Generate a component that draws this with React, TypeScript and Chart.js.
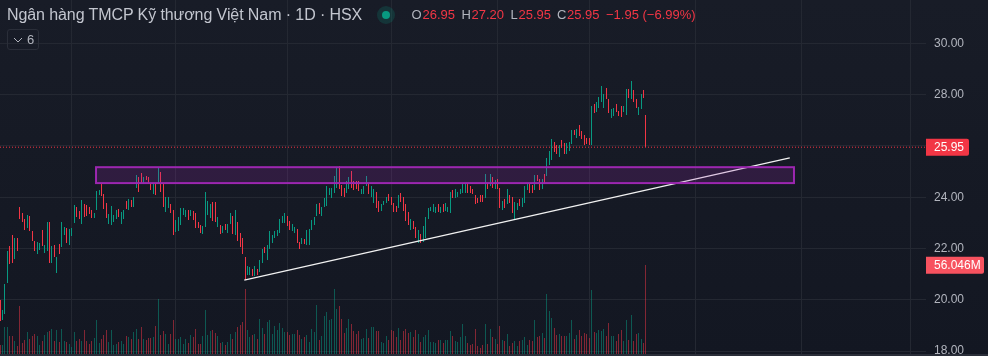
import React, { useEffect, useRef } from "react";
import { Chart, registerables } from "chart.js";

Chart.register(...registerables);

const highs = [
  19.99,19.62,20.62,21.90,22.09,22.51,22.41,22.41,23.62,23.37,23.15,23.31,23.27,22.67,22.28,22.24,22.22,22.72,22.12,23.03,
  23.03,22.09,22.14,21.67,22.18,23.03,22.83,22.79,22.76,22.80,23.70,23.62,23.46,23.89,23.74,23.70,23.62,23.50,23.39,24.24,
  24.28,24.57,24.12,23.77,23.34,23.66,23.31,23.50,23.54,23.42,23.50,23.85,23.93,23.89,24.01,24.87,24.79,24.94,24.79,24.83,
  24.79,24.55,24.55,24.55,25.18,24.98,24.54,24.01,24.01,23.73,23.50,23.11,23.23,23.58,23.58,23.50,23.50,23.50,23.46,23.38,
  23.03,22.92,22.88,24.20,23.85,23.73,23.81,23.81,23.23,22.92,22.88,22.95,22.95,23.38,23.27,23.50,23.03,22.60,22.41,21.67,
  21.32,21.28,21.20,21.32,21.20,21.55,21.98,22.06,22.14,22.68,22.53,22.68,22.72,23.15,23.27,23.38,23.27,23.07,22.95,22.84,
  22.76,22.25,22.41,22.37,22.72,22.76,23.11,23.23,23.73,23.77,23.62,23.97,24.44,24.36,24.36,24.83,25.18,25.22,24.48,24.36,
  24.63,24.79,25.02,24.63,24.63,24.63,24.32,24.44,24.83,24.54,24.44,24.32,24.20,23.85,23.73,23.85,24.01,24.12,24.01,23.77,
  23.66,24.08,24.16,24.01,23.73,23.42,23.15,23.07,22.84,22.72,22.56,22.88,23.23,23.58,23.62,23.73,23.62,23.73,23.62,23.73,
  23.77,23.62,24.20,24.28,24.32,24.20,24.32,24.55,24.55,24.55,24.44,24.32,24.08,23.97,24.08,24.08,24.90,24.55,24.90,24.79,
  24.67,24.70,24.35,23.85,23.92,24.31,24.08,24.00,23.81,23.77,23.92,23.96,24.43,24.51,24.51,24.47,24.86,24.86,24.70,24.70,
  24.90,25.52,25.80,26.26,26.15,26.03,26.03,26.22,26.11,26.11,26.15,26.62,26.62,26.65,26.81,26.58,26.42,26.30,26.30,27.55,
  27.63,27.71,27.90,28.33,28.02,28.25,27.82,27.43,27.47,27.63,27.36,27.55,27.55,28.21,28.21,28.53,28.18,27.82,27.51,28.02,
  28.18,27.20,
];

const lows = [
  19.16,19.20,19.46,20.67,21.41,21.44,21.60,21.92,23.16,23.05,22.73,22.80,22.70,22.31,21.92,21.80,21.94,22.09,21.84,21.92,
  21.45,21.45,21.66,21.05,21.80,22.07,22.54,22.23,22.15,22.50,23.00,23.23,23.15,22.97,23.22,23.26,23.35,23.19,23.19,23.50,
  24.09,24.05,23.54,23.19,22.95,22.92,23.03,23.15,23.23,22.95,23.15,23.54,23.50,23.62,23.62,24.36,24.20,24.55,24.51,24.67,
  24.51,24.28,24.12,24.08,24.51,24.20,23.62,23.42,23.58,23.38,22.53,22.64,22.68,22.92,23.31,23.23,23.11,23.27,23.11,22.80,
  22.80,22.60,22.56,22.84,23.31,23.19,23.07,23.03,22.84,22.56,22.60,22.72,22.60,22.95,22.56,22.53,22.29,22.06,21.78,20.77,
  20.97,20.97,20.93,20.93,20.97,21.08,21.42,21.82,21.55,21.98,22.21,22.41,22.49,22.60,22.99,22.99,22.88,22.72,22.68,22.60,
  22.21,21.98,22.17,22.17,22.14,22.14,22.72,22.92,23.27,23.34,23.27,23.62,23.66,24.08,23.97,24.16,24.36,24.32,24.05,24.01,
  24.16,24.32,24.36,24.28,24.32,24.24,24.12,24.12,24.44,24.12,24.01,23.77,23.58,23.42,23.46,23.70,23.77,23.85,23.70,23.42,
  23.42,23.58,23.81,23.46,23.07,22.92,22.72,22.76,22.41,22.21,22.21,22.25,22.41,23.15,23.46,23.42,23.38,23.42,23.38,23.42,
  23.46,23.42,23.38,23.97,23.97,24.01,24.12,24.16,24.16,24.16,24.16,24.12,23.73,23.77,23.81,23.81,23.97,24.32,24.44,24.36,
  24.31,24.31,23.57,23.49,23.57,23.73,23.77,23.38,23.14,23.49,23.65,23.61,23.77,24.27,24.16,24.16,24.27,24.63,24.27,24.31,
  24.55,24.82,25.25,25.45,25.76,25.68,25.56,25.91,25.68,25.68,25.80,26.07,26.42,26.30,26.38,26.26,26.03,26.07,26.03,26.03,
  27.28,27.32,27.47,27.71,27.47,27.82,27.28,27.08,27.16,27.32,27.16,27.12,27.32,27.20,27.86,27.82,27.71,27.47,27.20,27.43,
  27.86,25.95,
];

const directions = (
  "d u u u d d u d d d d u d d d u u d u u " +
  "d u d u d u u d u u u d d u d d d d u u " +
  "u d d d u u u u d u u d u d u u d d u d " +
  "d d u d u d d u u d d u u u u u d u d d " +
  "d d u u u u d d u d u d u u d u d d d d " +
  "u u d u d u u d u u u u u u u u d d u u " +
  "d d u d u u u u u d u u u u u u u d d d " +
  "u u d d d d u u u d u u d d u u u d d d " +
  "d u d d d d u d d u d u u u u u u d u d " +
  "u u u d u u u u u d d d d d d d u d u d " +
  "u d d u d u d d u u d u u u d d u d d u " +
  "d u u u d d u d d u u u d u d d d d d u " +
  "d u u u u d d u u d d d u u d u d d u u " +
  "d d"
).split(" ");

const volumesM = [
  5.9,5.9,17.1,17.1,11.4,11.4,8.2,5.1,30.3,7.0,8.8,13.9,9.5,11.4,12.6,11.4,5.7,8.2,12.0,13.9,
  14.5,15.8,8.2,15.2,7.6,15.8,8.2,7.6,6.3,4.4,13.9,8.2,9.5,8.2,15.2,8.2,6.3,8.2,10.1,21.5,
  7.0,9.5,12.0,15.2,7.6,15.2,5.7,6.3,7.6,8.2,6.3,11.4,10.7,9.5,13.9,15.8,9.5,17.1,9.5,8.8,
  10.1,10.1,10.7,17.7,34.8,12.0,14.5,12.6,6.3,12.6,21.5,9.5,9.5,10.7,6.3,9.5,7.0,12.0,10.7,15.8,
  6.3,6.3,11.4,27.8,12.0,14.5,15.2,13.3,11.4,7.0,7.6,5.7,7.6,12.6,9.5,13.9,17.1,18.3,20.2,41.1,
  15.2,10.7,12.0,12.6,9.5,22.1,16.4,12.6,20.2,21.5,12.6,17.7,15.2,19.6,16.4,13.9,13.9,12.0,12.6,12.6,
  15.2,12.0,9.5,10.7,12.0,7.6,15.8,13.9,31.0,8.8,11.4,24.0,26.5,21.5,21.9,41.1,28.4,30.3,22.1,13.3,
  16.4,22.1,19.0,14.5,12.6,14.5,9.5,10.1,15.8,10.1,17.1,17.1,14.5,14.5,7.6,7.0,11.4,8.8,15.2,14.5,
  10.7,16.4,8.8,14.5,15.8,13.3,13.9,10.7,15.2,12.6,7.6,10.7,12.0,15.2,7.6,7.6,7.0,8.8,8.8,7.0,
  8.8,8.8,14.5,11.4,8.2,7.6,10.7,19.0,11.4,7.0,5.7,6.3,15.8,5.1,3.8,5.7,19.0,6.3,15.8,10.7,
  9.5,6.3,17.7,8.8,8.2,12.6,5.1,7.0,8.2,5.1,8.2,8.8,10.7,5.7,8.8,8.2,21.5,10.7,11.4,13.3,
  10.1,37.9,27.2,22.8,16.4,12.0,12.6,11.4,11.4,11.4,13.3,21.5,9.5,12.0,15.2,11.4,13.3,12.6,10.1,40.5,
  13.9,13.3,15.2,14.5,15.8,11.4,19.6,11.4,11.4,8.2,12.6,15.2,8.2,21.5,8.8,24.7,8.2,12.6,13.3,9.5,
  7.0,56.046,
];

const priceTicks = [18, 20, 22, 24, 26, 28, 30];
const timeGridBars = [29, 71, 116, 158, 201, 238, 281, 324, 368];
const lastPrice = 25.95;
const lastVolumeLabel = "56.046M";
const lastPriceLabel = "25.95";
const trendBars = [98.7, 319.1];
const trendPrices = [20.77, 25.53];
const zoneBars = [38.8, 320.8];
const zonePrices = [25.17, 24.55];
const titleText = "Ngân hàng TMCP Kỹ thương Việt Nam · 1D · HSX";

const GREEN = "#089981";
const RED = "#F23645";
const TEXT = "#B2B5BE";

const snapBars = {
  id: "snapBars",
  afterDatasetsUpdate(chart: any) {
    chart.data.datasets.forEach((ds: any, i: number) => {
      if (ds.type === "line") return;
      chart.getDatasetMeta(i).data.forEach((el: any) => {
        el.x = Math.floor(el.x) + 0.5;
        el.y = Math.round(el.y);
        el.base = Math.round(el.base);
      });
    });
  },
};

const overlays = {
  id: "overlays",
  afterDatasetsDraw(chart: any) {
    const { ctx, scales } = chart;
    const x = scales.x;
    const y = scales.y;
    const left = x.getPixelForValue(zoneBars[0]);
    const right = x.getPixelForValue(zoneBars[1]);
    const top = y.getPixelForValue(zonePrices[0]);
    const bottom = y.getPixelForValue(zonePrices[1]);
    ctx.save();
    ctx.fillStyle = "rgba(156,39,176,0.2)";
    ctx.fillRect(left, top, right - left, bottom - top);
    ctx.strokeStyle = "#9C27B0";
    ctx.lineWidth = 2;
    ctx.strokeRect(left, top, right - left, bottom - top);
    ctx.restore();
  },
  afterDraw(chart: any) {
    const { ctx, scales, width, chartArea } = chart;
    ctx.save();
    ctx.fillStyle = "#2A2E39";
    ctx.fillRect(0, 354, width, 2);
    const tag = (label: string, cy: number, w: number, color: string) => {
      ctx.fillStyle = color;
      ctx.beginPath();
      ctx.roundRect(chartArea.right, cy - 8.5, w, 17, [0, 2, 2, 0]);
      ctx.fill();
      ctx.fillStyle = "#FFFFFF";
      ctx.font = "12px 'Liberation Sans'";
      ctx.textBaseline = "middle";
      ctx.textAlign = "left";
      ctx.fillText(label, chartArea.right + 8, cy + 0.5);
    };
    tag(lastPriceLabel, scales.y.getPixelForValue(lastPrice), 43, RED);
    tag(lastVolumeLabel, scales.v.getPixelForValue(volumesM[volumesM.length - 1]), 58, "#F7525F");
    ctx.restore();
  },
};

const legendParts: [string, number, string][] = [
  ["O", 411.5, TEXT],
  ["26.95", 422.5, RED],
  ["H", 461.5, TEXT],
  ["27.20", 471.5, RED],
  ["L", 510.5, TEXT],
  ["25.95", 518.5, RED],
  ["C", 557, TEXT],
  ["25.95", 567, RED],
  ["−1.95 (−6.99%)", 606, RED],
];

export default function App() {
  const ref = useRef<HTMLCanvasElement | null>(null);
  useEffect(() => {
    if (!ref.current) return;
    const chart = new Chart(ref.current, {
      type: "bar",
      data: {
        datasets: [
          {
            type: "line",
            data: [
              { x: trendBars[0], y: trendPrices[0] },
              { x: trendBars[1], y: trendPrices[1] },
            ],
            borderColor: "#F2F2F2",
            borderWidth: 1.25,
            pointRadius: 0,
            yAxisID: "y",
            order: 0,
          },
          {
            type: "line",
            data: [
              { x: 0, y: lastPrice },
              { x: 926 / 2.475, y: lastPrice },
            ],
            borderColor: RED,
            borderWidth: 1,
            borderDash: [1, 2],
            pointRadius: 0,
            yAxisID: "y",
            order: 1,
          },
          {
            type: "bar",
            data: highs.map((h, i) => ({ x: i, y: [lows[i], h] })),
            backgroundColor: directions.map((d) => (d === "u" ? GREEN : RED)),
            barThickness: 1,
            inflateAmount: 0,
            grouped: false,
            yAxisID: "y",
            order: 2,
          },
          {
            type: "bar",
            data: volumesM.map((v, i) => ({ x: i, y: v })),
            backgroundColor: directions.map((d) =>
              d === "u" ? "rgba(8,153,129,0.5)" : "rgba(242,54,69,0.5)"
            ),
            barThickness: 1,
            inflateAmount: 0,
            grouped: false,
            yAxisID: "v",
            order: 3,
          },
        ],
      } as any,
      options: {
        animation: false,
        responsive: false,
        maintainAspectRatio: false,
        layout: { padding: 0 },
        plugins: { legend: { display: false }, tooltip: { enabled: false }, title: { display: false } },
        scales: {
          x: {
            type: "linear",
            min: 0,
            max: 926 / 2.475,
            offset: false,
            border: { display: false },
            grid: { color: "#242832", lineWidth: 1, drawTicks: false, offset: false },
            ticks: { display: false },
            afterBuildTicks(axis: any) {
              axis.ticks = timeGridBars.map((value) => ({ value }));
            },
            afterFit(axis: any) {
              axis.height = 0;
              axis.paddingLeft = 0;
              axis.paddingRight = 0;
            },
          },
          y: {
            type: "linear",
            position: "right",
            min: 17.809,
            max: 31.688,
            border: { display: false },
            grid: { color: "#242832", lineWidth: 1, drawTicks: false },
            ticks: {
              color: TEXT,
              padding: 8,
              font: { family: "'Liberation Sans'", size: 12 },
              autoSkip: false,
              callback: (v: any) => Number(v).toFixed(2),
            },
            afterBuildTicks(axis: any) {
              axis.ticks = priceTicks.map((value) => ({ value }));
            },
            afterFit(axis: any) {
              axis.width = 62;
              axis.paddingTop = 0;
              axis.paddingBottom = 0;
            },
          },
          v: {
            type: "linear",
            display: false,
            min: -1.264,
            max: 223.73,
          },
        },
      } as any,
      plugins: [snapBars, overlays],
    });
    return () => chart.destroy();
  }, []);

  return (
    <div
      style={{
        position: "fixed",
        left: 0,
        top: 0,
        width: 988,
        height: 356,
        overflow: "hidden",
        background: "linear-gradient(#181C27, #131722)",
        fontFamily: "'Liberation Sans', sans-serif",
      }}
    >
      <canvas ref={ref} width={988} height={356} style={{ display: "block", position: "absolute", left: 0, top: 0 }} />
      <div style={{ position: "absolute", left: 7, top: 6, fontSize: 16, lineHeight: "18px", letterSpacing: "-0.09px", color: "#C3C6CF", whiteSpace: "nowrap" }}>
        {titleText}
      </div>
      <div style={{ position: "absolute", left: 377, top: 6, width: 18, height: 18, borderRadius: 9, background: "rgba(8,153,129,0.2)" }} />
      <div style={{ position: "absolute", left: 382, top: 11, width: 8, height: 8, borderRadius: 4, background: GREEN }} />
      {legendParts.map(([t, left, color], i) => (
        <div key={i} style={{ position: "absolute", left, top: 7, fontSize: 13, lineHeight: "16px", color, whiteSpace: "nowrap" }}>
          {t}
        </div>
      ))}
      <div
        style={{
          position: "absolute",
          left: 7,
          top: 29,
          width: 30,
          height: 19,
          border: "1px solid #2A2E39",
          borderRadius: 3,
          color: TEXT,
          fontSize: 13,
          lineHeight: "19px",
        }}
      >
        <svg width="10" height="6" style={{ position: "absolute", left: 5, top: 7 }}>
          <path d="M1 1 L5 5 L9 1" stroke={TEXT} fill="none" strokeWidth="1" />
        </svg>
        <span style={{ position: "absolute", left: 19 }}>6</span>
      </div>
    </div>
  );
}
